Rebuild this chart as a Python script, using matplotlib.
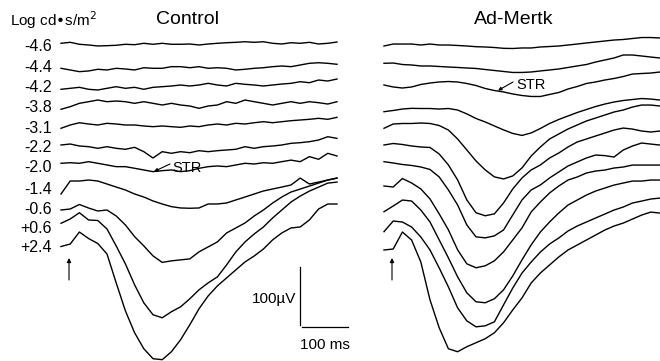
import numpy as np
import matplotlib
matplotlib.use("Agg")
import matplotlib.pyplot as plt

# ---------------- data ----------------
intensity_labels = ["-4.6", "-4.4", "-4.2", "-3.8", "-3.1", "-2.2",
                    "-2.0", "-1.4", "-0.6", "+0.6", "+2.4"]
time_ms = np.arange(0, 601, 20)          # sampling grid of the read-off values

# Control responses (µV, relative to each trace's start)
ctrl_m46 = [1.2, 2.9, -0.5, -1.7, -3.4, -2.9, -2.2, -0.5, -1.2, 1.2, -0.5, 1.2, -0.5, -0.5, 0, -1.7, 0, 1.2, 2.2, 2.9, 3.9, 2.9, 3.9, 1.2, 0, 2.2, 1.2, 2.9, 0, 1.2, 3.4]
ctrl_m44 = [0, -2.9, -5.8, -4.6, -1.7, -2.9, 0, -1.2, -2.9, 1, 0, 0, 2.8, 2.8, 1, 2.8, 0, 1, 0, -2.9, -1.7, 0, 1, 2.8, 4, 2.8, 5.7, 8.6, 9.6, 8.6, 6.9]
ctrl_m42 = [0, 1.7, 3.4, 0, -1.2, 1.7, 4.5, 1.7, 3.4, 0, 3.4, 4.5, 5.7, 7.4, 5.7, 7.4, 10.3, 7.4, 5.7, 10.3, 8.6, 7.4, 5.7, 7.4, 9.1, 10.3, 13.1, 11.4, 16, 14.3, 17.7]
ctrl_m38 = [0, 4.5, 10.3, 13.1, 16, 13.1, 14.3, 13.1, 10.3, 13.1, 10.3, 7.4, 10.3, 7.4, 5.7, 1.7, 5.7, 7.4, 13.1, 10.3, 16, 13.1, 10.3, 7.4, 10.3, 13.1, 10.3, 13.1, 11.4, 9.1, 13.1]
ctrl_m31 = [0, 5.7, 9.6, 7.4, 5.7, 8.6, 7.4, 5.7, 5.7, 4, 2.8, 4, 2.8, 1.7, 4, 2.8, 5.7, 7.4, 5.7, 8.6, 7.4, 9.6, 11.4, 9.6, 11.4, 13.1, 14.3, 15.5, 17.2, 15.5, 18.9]
ctrl_m22 = [0, 1.7, -1.7, -2.9, -5.7, -2.9, -5.7, -7.4, -4, -11.5, -22.4, -11.5, -14.3, -11.5, -13.3, -9.8, -11.5, -9.8, -8.6, -7.4, -2.9, -5.7, -2.9, -1.7, 0, 2.9, 4, 5.7, 8.6, 14.3, 11.4]
ctrl_m20 = [0, 1, 0, 2.8, 0, -2.9, -5.8, -5.8, -8.6, -11.5, -14.4, -12.7, -11.5, -14.4, -12.7, -8.6, -5.8, -4.6, -5.8, -2.9, 0, -1.2, 1, 0, 2.8, 5.5, 2.8, 11.5, 6.9, 17.2, 12.6]
ctrl_m14 = [0, 22.4, 22.4, 24.1, 22.4, 17.2, 12, 6.9, 0, -5.2, -12, -17.2, -21.8, -24.1, -24.6, -24.1, -17.2, -17.2, -15.5, -10.3, -5.2, 0, 5.2, 8.6, 12, 15.5, 27.5, 17.2, 20.6, 24.1, 27.5]
ctrl_m06 = [0, 1.7, 9.5, 3.4, -1.7, 0, -10.3, -25.8, -45.9, -61.9, -79.1, -90.3, -87.7, -86, -84.3, -72.2, -63.6, -55, -39.6, -31, -22.4, -10.3, 0, 12, 22.4, 31, 36.1, 41.3, 46.4, 51.6, 55]
ctrl_p06 = [-0.5, 6.9, 17.7, 5.2, 4.3, -10.3, -39.6, -70.5, -106.6, -137.6, -158.2, -163.4, -153, -144.5, -130.7, -115.2, -103.2, -92.9, -72.2, -49.9, -32.7, -18.9, -6.9, 8.6, 22.4, 36.1, 46.4, 55, 61.9, 68.8, 70.5]
ctrl_p24 = [0.3, 4.6, 25.3, 14.1, 5.5, -12.6, -62.4, -110.6, -148.4, -175.9, -193.1, -194.8, -181.1, -160.4, -134.6, -107.1, -84.8, -67.6, -53.8, -40, -26.3, -16, -4, 11.7, 23.7, 32.3, 34, 46.1, 65, 73.6, 73.6]

# Ad-Mertk responses (µV, relative to each trace's start)
mertk_m46 = [0, 3.4, 3.4, 3.4, 1.7, 3.4, 1.7, 1.7, 0.9, 0, -1.2, -1.7, -2.6, -4, -4.3, -3.4, -3.4, -1.7, -0.9, 0, 1.7, 3.4, 5.2, 6.9, 8.6, 10.3, 11.2, 12.9, 14.6, 14.6, 13.8]
mertk_m44 = [0, 0.5, -2.1, -2.9, -4.6, -4.6, -5.5, -6.4, -7.2, -8.1, -8.9, -10.7, -12.4, -14.1, -15.8, -15.8, -15, -13.2, -11.5, -9.8, -7.2, -4.6, -2.1, 2.2, 5.7, 9.1, 14.3, 14.3, 12.6, 10.8, 9.1]
mertk_m42 = [0, -3.4, -5.2, -3.4, 0.9, 3.4, 5.2, 6, 5.2, 2.6, -0.9, -6, -9.5, -12, -15.5, -18.1, -19.8, -19.8, -16.3, -12.9, -6.9, -2.6, 2.6, 5.2, 8.6, 11.2, 14.6, 18.9, 19.8, 20.6, 22.4]
mertk_m38 = [0, 2.1, 4.6, 5.8, 5.5, 5.5, 4.6, 5.5, 2.9, -3.8, -11.7, -17.7, -24.6, -31.4, -37.5, -40.9, -36.6, -28.9, -20.3, -13.4, -7.4, -1.4, 3.8, 8.9, 13.2, 16.7, 19.3, 21, 22.7, 21.8, 20.1]
mertk_m31 = [0, 7.4, 8.3, 8.3, 9.1, 8.3, 4.8, -3, -18.4, -37.3, -56.3, -71.7, -83.8, -87.3, -82.1, -68.3, -47.7, -32.2, -18.4, -9.8, -1.2, 5.7, 12.6, 17.7, 22.9, 28.1, 31.5, 36.6, 40.1, 40.1, 38.4]
mertk_m22 = [0, 2.6, 0.9, -1.7, -3.4, -4.3, -15.5, -34.4, -60.2, -94.6, -116.8, -122, -118.7, -99.8, -75.7, -56.8, -43, -34.4, -22.4, -13.8, -3.4, 5.2, 10.3, 15.5, 20.6, 25.8, 29.2, 27.5, 24.1, 22.4, 24.1]
mertk_m20 = [0, -2.2, -4.8, -6.5, -9.1, -13.4, -26.3, -48.7, -74.6, -109, -129.6, -131.3, -127.9, -117.6, -91.7, -65.9, -48.7, -40.1, -28, -17.7, -7.4, -0.5, 6.4, 11.5, 10.5, 8.0, 20.1, 27, 32.2, 30.4, 28.7]
mertk_m14 = [1.2, -0.5, 14.1, 6.4, -3.8, -21.1, -46.9, -74.4, -108.8, -132.9, -139.8, -136.4, -127.8, -112.3, -91.7, -71, -43.5, -26.3, -10.8, 1.2, 11.5, 16.7, 23.6, 27, 28.7, 32.2, 33.9, 37.3, 37.3, 37.3, 37.3]
mertk_m06 = [0, 9.8, 20.1, 18.4, 2.9, -17.7, -48.7, -79.6, -112.3, -139.8, -155.3, -157, -150.1, -134.6, -110.6, -83, -57.1, -34.9, -17.7, -2.2, 11.5, 20.1, 28.7, 35.6, 40.8, 45.9, 49.4, 52.8, 52.8, 54.6, 54.6]
mertk_p06 = [0, 18.4, 16.7, 8.1, -9.1, -31.5, -62.5, -95.2, -131.3, -153.7, -164, -162.3, -155.4, -126, -97, -71.3, -52.2, -35, -21.2, -10.8, 1.2, 9.8, 16.7, 23.6, 30.4, 37.3, 42.5, 49.4, 52.8, 56.3, 58]
mertk_p24 = [0, 1.7, 31, 17.2, -20.6, -86, -134.2, -170.3, -175.4, -166.8, -159.9, -153, -142.7, -125.4, -103.2, -82.6, -56.8, -39.6, -25.8, -12, 0, 8.6, 17.2, 25.8, 34.4, 41.3, 46.4, 53.3, 60.2, 65.4, 63.6]

control_traces = [ctrl_m46, ctrl_m44, ctrl_m42, ctrl_m38, ctrl_m31, ctrl_m22,
                  ctrl_m20, ctrl_m14, ctrl_m06, ctrl_p06, ctrl_p24]
mertk_traces = [mertk_m46, mertk_m44, mertk_m42, mertk_m38, mertk_m31, mertk_m22,
                mertk_m20, mertk_m14, mertk_m06, mertk_p06, mertk_p24]

scale_uv = 100
scale_ms = 100

# ---------------- layout ----------------
W, H, DPI = 660, 361, 100
PX_PER_MS = 0.46
PX_PER_UV = 0.58
CTRL_X0 = 61          # px of t=0 for control panel
MERTK_X0 = 384        # px of t=0 for Ad-Mertk panel
ctrl_base_px = [44, 68.3, 89.3, 109.3, 128.3, 145, 163.3, 194, 210, 223, 246.7]
mertk_base_px = [46, 63.3, 85, 111.7, 128.3, 145, 161.7, 186.7, 211.7, 231.7, 250]
label_y_px = [46.5, 67.5, 88, 108, 128.5, 148, 168, 189, 209, 228.5, 248]


def xms(px):
    return (px - CTRL_X0) / PX_PER_MS


def yuv(py):
    return -py / PX_PER_UV


plt.rcParams['font.family'] = ['Liberation Sans', 'DejaVu Sans']
fig = plt.figure(figsize=(W / DPI, H / DPI), dpi=DPI)
ax = fig.add_axes([0, 0, 1, 1])
ax.set_xlim(xms(0), xms(W))
ax.set_ylim(yuv(H), yuv(0))
ax.axis('off')

t = np.asarray(time_ms, dtype=float)
for vals, base in zip(control_traces, ctrl_base_px):
    ax.plot(t + xms(CTRL_X0), yuv(base) + np.asarray(vals), color='black', lw=1.0)
for vals, base in zip(mertk_traces, mertk_base_px):
    ax.plot(t + xms(MERTK_X0), yuv(base) + np.asarray(vals), color='black', lw=1.0)

# labels
for lab, yp in zip(intensity_labels, label_y_px):
    ax.text(xms(52), yuv(yp), lab, ha='right', va='center', fontsize=11.5)
ax.text(xms(10), yuv(20), "Log cd\u2022s/m$^2$", ha='left', va='center', fontsize=11)
ax.text(xms(188), yuv(20), "Control", ha='center', va='center', fontsize=14)
ax.text(xms(514), yuv(20), "Ad-Mertk", ha='center', va='center', fontsize=14)

# STR annotations
ax.annotate("", xy=(xms(154), yuv(171.5)), xytext=(xms(170), yuv(164)),
            arrowprops=dict(arrowstyle='-|>', lw=0.8, color='black', mutation_scale=5,
                            shrinkA=0, shrinkB=0))
ax.text(xms(172), yuv(168), "STR", ha='left', va='center', fontsize=10.5)
ax.annotate("", xy=(xms(498), yuv(90.5)), xytext=(xms(513), yuv(82)),
            arrowprops=dict(arrowstyle='-|>', lw=0.8, color='black', mutation_scale=5,
                            shrinkA=0, shrinkB=0))
ax.text(xms(516), yuv(85), "STR", ha='left', va='center', fontsize=10.5)

# flash arrows
for xa in (69, 392):
    ax.annotate("", xy=(xms(xa), yuv(258)), xytext=(xms(xa), yuv(280)),
                arrowprops=dict(arrowstyle='-|>', lw=0.8, color='black', mutation_scale=6,
                                shrinkA=0, shrinkB=0))

# scale bars
sx, sy_top = xms(300), yuv(267)
ax.plot([sx, sx], [sy_top, sy_top - scale_uv], color='black', lw=0.9)
hx, hy = xms(302), yuv(327)
ax.plot([hx, hx + scale_ms], [hy, hy], color='black', lw=0.9)
ax.text(xms(296), yuv(299), "100\u00b5V", ha='right', va='center', fontsize=11)
ax.text(xms(325), yuv(345), "100 ms", ha='center', va='center', fontsize=11)

fig.savefig("out.png", dpi=DPI)
